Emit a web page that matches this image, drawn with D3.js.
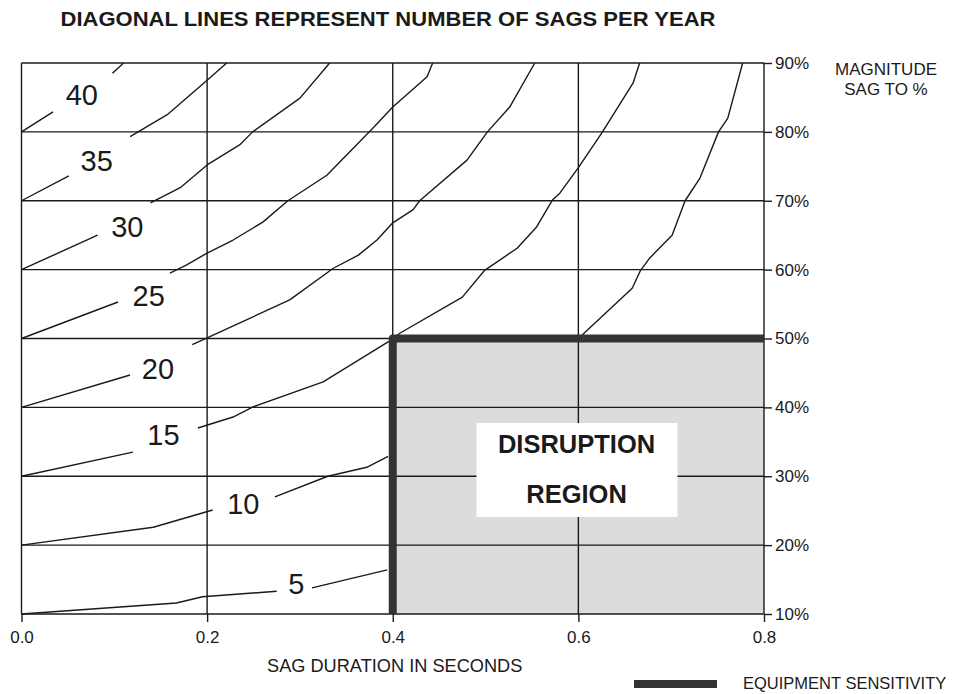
<!DOCTYPE html>
<html>
<head>
<meta charset="utf-8">
<script src="https://cdn.jsdelivr.net/npm/d3@7"></script>
<style>
  html, body { margin: 0; padding: 0; background: #fff; }
  svg { display: block; font-family: "Liberation Sans", Arial, sans-serif; }
</style>
</head>
<body>
<svg id="chart" width="964" height="694"></svg>
<script>
// Axis ticks
const durationTicks = [0.0, 0.2, 0.4, 0.6, 0.8];
const magnitudeTicks = [10, 20, 30, 40, 50, 60, 70, 80, 90];

// Sags-per-year contours: [duration (s), magnitude (%)]; null = gap for the label
const sags5 = [[0, 10], [0.167, 11.6], [0.195, 12.5], [0.275, 13.3], null, [0.313, 13.8], [0.394, 16.4]];
const sags10 = [[0, 20], [0.142, 22.6], [0.206, 25.1], null, [0.273, 27.0], [0.330, 30.0], [0.372, 31.3], [0.395, 32.9], null,
  [0.600, 50.0], [0.658, 57.3], [0.667, 59.9], [0.677, 61.7], [0.685, 62.8], [0.701, 65.0], [0.715, 70.0], [0.731, 73.3], [0.751, 80.0], [0.761, 82.0], [0.777, 90]];
const sags15 = [[0, 30], [0.120, 33.5], null, [0.190, 37.0], [0.228, 38.6], [0.250, 40.1], [0.325, 43.7], [0.395, 49.5], [0.408, 50.8],
  [0.475, 56.0], [0.499, 59.9], [0.534, 63.1], [0.555, 66.2], [0.572, 70.1], [0.580, 71.1], [0.600, 74.8], [0.620, 78.8], [0.626, 80.0], [0.659, 87.1], [0.666, 90]];
const sags20 = [[0, 40], [0.117, 44.7], null, [0.184, 49.1], [0.200, 50.1], [0.289, 55.6], [0.336, 60.2], [0.363, 62.1], [0.383, 64.3],
  [0.400, 66.8], [0.422, 68.7], [0.429, 70.0], [0.480, 75.9], [0.502, 80.0], [0.526, 83.6], [0.553, 90]];
const sags25 = [[0, 50], [0.104, 55.3], null, [0.160, 59.5], [0.178, 60.7], [0.200, 62.4], [0.228, 64.3], [0.260, 66.9], [0.287, 70.0],
  [0.329, 73.7], [0.379, 80.6], [0.400, 83.6], [0.437, 88.0], [0.443, 90]];
const sags30 = [[0, 60], [0.082, 65.0], null, [0.139, 69.7], [0.171, 71.9], [0.200, 75.2], [0.235, 78.1], [0.249, 80.0], [0.300, 84.9], [0.332, 90]];
const sags35 = [[0, 70], [0.051, 73.6], null, [0.117, 79.3], [0.157, 82.5], [0.200, 87.5], [0.221, 90]];
const sags40 = [[0, 80], [0.034, 82.9], null, [0.098, 88.5], [0.110, 90]];

const contourValues = [5, 10, 15, 20, 25, 30, 35, 40];
const contourLines = [sags5, sags10, sags15, sags20, sags25, sags30, sags35, sags40];
// Where each contour's number sits: [duration (s), magnitude (%)]
const contourLabelAt = [[0.296, 14.4], [0.239, 26.0], [0.153, 36.0], [0.147, 45.7], [0.137, 56.2], [0.114, 66.2], [0.081, 75.9], [0.065, 85.4]];

// Equipment sensitivity: ride-through limit
const sensitivityDuration = 0.4;
const sensitivityMagnitude = 50;

const svg = d3.select("#chart");
const x = d3.scaleLinear().domain([0, 0.8]).range([21.5, 764]);
const y = d3.scaleLinear().domain([10, 90]).range([614, 63]);
const ink = "#1a1a1a";

// Title
svg.append("text")
  .attr("x", 388).attr("y", 26)
  .attr("text-anchor", "middle")
  .attr("font-size", 19.5).attr("font-weight", "bold").attr("fill", ink)
  .attr("textLength", 655).attr("lengthAdjust", "spacingAndGlyphs")
  .text("DIAGONAL LINES REPRESENT NUMBER OF SAGS PER YEAR");

// Disruption region fill
svg.append("rect")
  .attr("x", x(sensitivityDuration)).attr("y", y(sensitivityMagnitude))
  .attr("width", x(0.8) - x(sensitivityDuration))
  .attr("height", y(10) - y(sensitivityMagnitude))
  .attr("fill", "#dcdcdc");

// Grid
const grid = svg.append("g").attr("stroke", ink).attr("stroke-width", 1.4);
grid.selectAll("line.v").data(durationTicks).join("line").attr("class", "v")
  .attr("x1", d => x(d)).attr("x2", d => x(d)).attr("y1", y(90)).attr("y2", y(10));
grid.selectAll("line.h").data(magnitudeTicks).join("line").attr("class", "h")
  .attr("x1", x(0)).attr("x2", x(0.8)).attr("y1", d => y(d)).attr("y2", d => y(d));

// Axes
const bottomAxis = svg.append("g").attr("transform", `translate(0,${y(10)})`)
  .call(d3.axisBottom(x).tickValues(durationTicks).tickFormat(d3.format(".1f")).tickSize(8).tickPadding(9));
const rightAxis = svg.append("g").attr("transform", `translate(${x(0.8)},0)`)
  .call(d3.axisRight(y).tickValues(magnitudeTicks).tickFormat(d => d + "%").tickSize(8).tickPadding(3));
[bottomAxis, rightAxis].forEach(g => {
  g.select(".domain").remove();
  g.selectAll(".tick line").attr("stroke", ink).attr("stroke-width", 1.4);
  g.selectAll(".tick text").attr("fill", ink).attr("font-size", 17).attr("font-family", "Liberation Sans, Arial, sans-serif");
});

// Contours
const line = d3.line().defined(d => d !== null).x(d => x(d[0])).y(d => y(d[1]));
svg.append("g").selectAll("path").data(contourLines).join("path")
  .attr("d", line).attr("fill", "none").attr("stroke", ink).attr("stroke-width", 1.4)
  .attr("stroke-linejoin", "round");
svg.append("g").selectAll("text").data(contourValues).join("text")
  .attr("x", (d, i) => x(contourLabelAt[i][0]))
  .attr("y", (d, i) => y(contourLabelAt[i][1]))
  .attr("dy", "0.36em")
  .attr("text-anchor", "middle").attr("font-size", 29).attr("fill", ink)
  .text(d => d);

// Equipment sensitivity curve
svg.append("path")
  .datum([[sensitivityDuration, 10], [sensitivityDuration, sensitivityMagnitude], [0.8, sensitivityMagnitude]])
  .attr("d", d3.line().x(d => x(d[0])).y(d => y(d[1])))
  .attr("fill", "none").attr("stroke", "#333").attr("stroke-width", 8).attr("stroke-linejoin", "round");

// Region caption
const cx = x(0.598), cy = y(30.9);
svg.append("rect").attr("x", cx - 100).attr("y", cy - 47).attr("width", 201).attr("height", 94).attr("fill", "#fff");
svg.append("text").attr("x", cx).attr("y", cy - 17).attr("text-anchor", "middle")
  .attr("font-size", 25.5).attr("font-weight", "bold").attr("fill", ink).text("DISRUPTION");
svg.append("text").attr("x", cx).attr("y", cy + 33).attr("text-anchor", "middle")
  .attr("font-size", 25.5).attr("font-weight", "bold").attr("fill", ink).text("REGION");

// Right-hand axis title
svg.append("text").attr("x", 886).attr("y", 75).attr("text-anchor", "middle")
  .attr("font-size", 17).attr("fill", ink).text("MAGNITUDE");
svg.append("text").attr("x", 886).attr("y", 95).attr("text-anchor", "middle")
  .attr("font-size", 17).attr("fill", ink).text("SAG TO %");

// Bottom axis title
svg.append("text").attr("x", 267).attr("y", 672)
  .attr("font-size", 18.2).attr("fill", ink).text("SAG DURATION IN SECONDS");

// Legend
svg.append("line").attr("x1", 634).attr("x2", 717).attr("y1", 684).attr("y2", 684)
  .attr("stroke", "#333").attr("stroke-width", 8);
svg.append("text").attr("x", 743).attr("y", 689)
  .attr("font-size", 16.5).attr("fill", ink).text("EQUIPMENT SENSITIVITY");
</script>
</body>
</html>
